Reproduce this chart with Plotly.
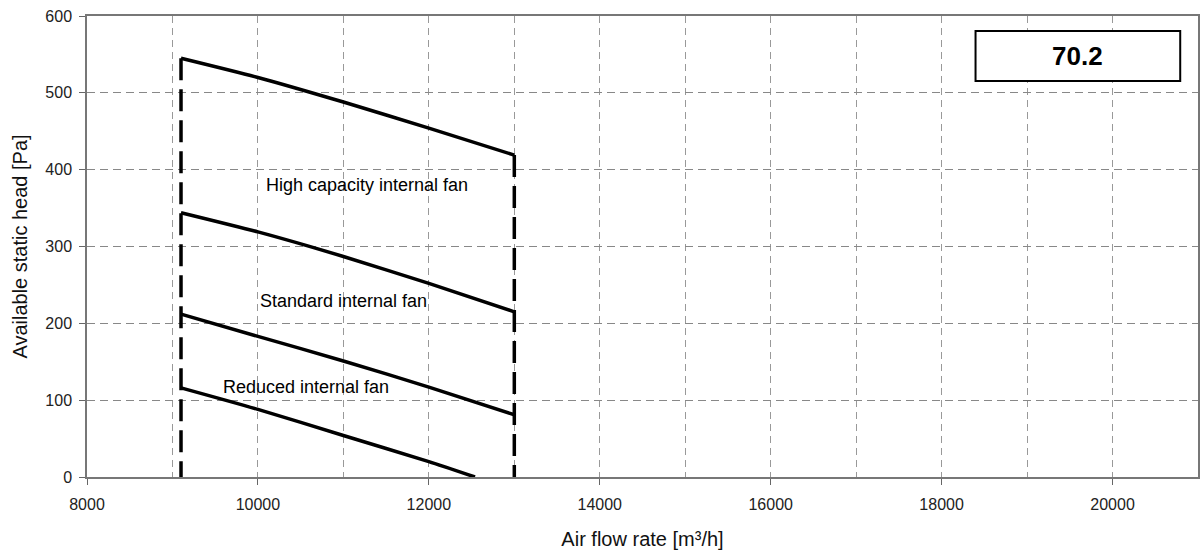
import plotly.graph_objects as go

# Data
flow_x = [9100, 10000, 11000, 12000, 13000]
high_capacity = [545, 520, 488, 454, 419]
standard = [344, 319, 287, 252, 215]
third_curve = [212, 183, 151, 117, 81]
reduced_x = [9100, 10000, 11000, 12000, 12540]
reduced = [116, 88, 54, 20, 0]

limit_x = [9100, 13000]
limit_top = [545, 419]

labels = ["High capacity internal fan", "Standard internal fan", "Reduced internal fan"]
label_x = [11275, 11006, 10561]
label_y = [380, 229, 117]

model_code = "70.2"
x_tick_vals = [8000, 10000, 12000, 14000, 16000, 18000, 20000]
x_tick_text = ["8000", "10000", "12000", "14000", "16000", "18000", "20000"]
y_tick_vals = [0, 100, 200, 300, 400, 500, 600]
y_tick_text = ["0", "100", "200", "300", "400", "500", "600"]

FONT = "Liberation Sans, Arial, Helvetica, sans-serif"
LW = 3.5

fig = go.Figure()

# Vertical dashed limit lines
for xv, top in zip(limit_x, limit_top):
    fig.add_trace(go.Scatter(x=[xv, xv], y=[top, 0], mode="lines",
                             line=dict(color="black", width=LW, dash="22px,9px"),
                             hoverinfo="skip", showlegend=False))

for xs, ys in [(flow_x, high_capacity), (flow_x, standard), (flow_x, third_curve), (reduced_x, reduced)]:
    fig.add_trace(go.Scatter(x=xs, y=ys, mode="lines",
                             line=dict(color="black", width=LW, shape="spline", smoothing=0.6),
                             hoverinfo="skip", showlegend=False))

for t, xv, yv in zip(labels, label_x, label_y):
    fig.add_annotation(x=xv, y=yv, text=t, showarrow=False,
                       font=dict(family=FONT, size=18, color="black"))

# Model box
fig.add_shape(type="rect", xref="x", yref="y", x0=18397, x1=20792, y0=515.5, y1=580.5,
              line=dict(color="black", width=2), fillcolor="white", layer="above")
fig.add_annotation(x=19595, y=548, text="<b>" + model_code + "</b>", showarrow=False,
                   font=dict(family=FONT, size=26, color="black"))

fig.update_layout(
    width=1200, height=552,
    margin=dict(l=87, r=0, t=16, b=75),
    paper_bgcolor="white", plot_bgcolor="white",
    font=dict(family=FONT, color="#222"),
    xaxis=dict(
        range=[8000, 21000], tickvals=x_tick_vals, ticktext=x_tick_text,
        ticks="outside", ticklen=6,
        tickcolor="#666", tickfont=dict(size=16, color="#222"),
        showline=True, linecolor="#777", linewidth=1.5, mirror=True,
        showgrid=True, gridcolor="#999", gridwidth=1, griddash="7px,5px",
        minor=dict(dtick=1000, tick0=8000, showgrid=True, gridcolor="#999",
                   gridwidth=1, griddash="7px,5px"),
        zeroline=False, ticklabelstandoff=6,
        title=dict(text="Air flow rate [m³/h]", font=dict(size=20, color="#111"), standoff=20),
    ),
    yaxis=dict(
        range=[0, 600], tickvals=y_tick_vals, ticktext=y_tick_text,
        ticks="outside", ticklen=6,
        tickcolor="#666", tickfont=dict(size=16, color="#222"),
        showline=True, linecolor="#777", linewidth=1.5, mirror=True,
        showgrid=True, gridcolor="#888", gridwidth=1.2, griddash="8px,5px",
        zeroline=False, ticklabelstandoff=4,
        title=dict(text="Available static head [Pa]", font=dict(size=20, color="#111"), standoff=12),
    ),
)

fig.write_html("out.html")
